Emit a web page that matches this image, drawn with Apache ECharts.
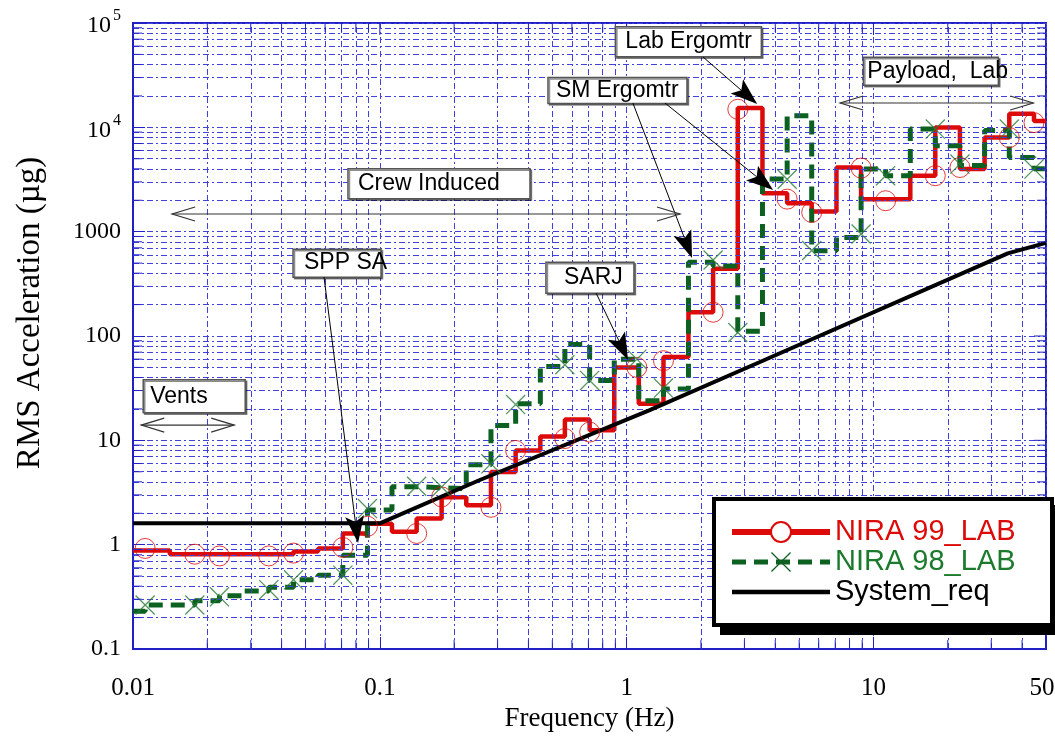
<!DOCTYPE html>
<html>
<head>
<meta charset="utf-8">
<script src="https://cdn.jsdelivr.net/npm/echarts@6/dist/echarts.min.js"></script>
<style>
  html, body { margin: 0; padding: 0; background: #fff; }
  #chart { width: 1055px; height: 737px; }
</style>
</head>
<body>
<div id="chart"></div>
<script>
// ==================== DATA ====================
// third-octave band edges (Hz)
const bandEdges = [0.01, 0.0112, 0.0141, 0.0178, 0.0224, 0.0282, 0.0355, 0.0447, 0.0562, 0.0708,
  0.0891, 0.112, 0.141, 0.178, 0.224, 0.282, 0.355, 0.447, 0.562, 0.708,
  0.891, 1.12, 1.41, 1.78, 2.24, 2.82, 3.55, 4.47, 5.62, 7.08,
  8.91, 11.2, 14.1, 17.8, 22.4, 28.2, 35.5, 44.7, 50];
// RMS level per band (µg)
const nira99Lab = [0.88, 0.88, 0.81, 0.81, 0.81, 0.81, 0.81, 0.86, 0.92, 1.28,
  1.59, 1.33, 1.78, 2.85, 2.39, 4.97, 8.0, 10.9, 15.8, 12.5,
  50, 22.4, 63, 169, 440, 15300, 2330, 1870, 1560, 4120,
  2050, 2050, 3440, 9960, 3980, 7980, 13500, 11500];
const nira98Lab = [0.23, 0.264, 0.264, 0.29, 0.324, 0.36, 0.39, 0.46, 0.51, 0.79,
  2.15, 3.6, 3.5, 3.45, 5.85, 13.9, 22.4, 51, 83, 37.5,
  60, 24, 31, 510, 470, 111, 3190, 12900, 658, 880,
  3990, 3440, 9620, 6650, 4300, 9300, 5140, 4000];
// marker positions
const markFreq = [0.0112, 0.0178, 0.0224, 0.0355, 0.0447, 0.0708, 0.0891, 0.141, 0.178, 0.282,
  0.355, 0.562, 0.708, 1.1, 1.41, 2.24, 2.82, 4.47, 5.62, 8.91, 11.2, 17.8, 22.4, 35.5, 44.7];
const nira99Marks = [0.92, 0.81, 0.78, 0.78, 0.83, 0.94, 1.5, 1.28, 2.87, 2.28,
  8.0, 10.4, 12.0, 50, 58, 169, 14900, 2050, 1530, 4070, 1980, 3440, 4120, 7980, 11100];
const nira98Marks = [0.264, 0.264, 0.316, 0.37, 0.46, 0.51, 2.22, 3.63, 3.58, 5.96,
  22, 53, 37.5, 60, 31.7, 535, 108, 3180, 660, 950, 3440, 9620, 4440, 9620, 3980];
// system requirement curve
const reqFreq = [0.01, 0.1, 0.25, 1.24, 3.45, 35, 50];
const reqVal = [1.6, 1.6, 4.1, 19.5, 56, 620, 780];
// axis labels
const xLabelValues = [0.01, 0.1, 1, 10, 50];
const xDecades = [0.01, 0.1, 1, 10];
const yDecades = [0.1, 1, 10, 100, 1000, 10000];

// ==================== STYLE ====================
const RED = '#dd0a0a', GREEN = '#0c6020', GREEN_TXT = '#1c7a2c';
const GRID_BLUE = '#4040dd', BORDER_BLUE = '#2020c4';
const SERIF = '"Liberation Serif", "Times New Roman", serif';
const SANS = '"Liberation Sans", Arial, sans-serif';
const X_MARK = 'path://M0,0.9L0.9,0L20,19.1L19.1,20Z M19.1,0L20,0.9L0.9,20L0,19.1Z';

const stepPoints = vals => {
  const pts = [];
  vals.forEach((v, i) => { pts.push([bandEdges[i], v]); pts.push([bandEdges[i + 1], v]); });
  return pts;
};
const minorVals = (decades, max) => {
  const out = [];
  decades.forEach(d => { for (let m = 2; m <= 9; m++) { const v = +(d * m).toPrecision(3); if (v < max) out.push(v); } });
  return out;
};
const xMinor = minorVals(xDecades, 50);
const yMinor = minorVals(yDecades, 1e5);
const gridDash = [6, 3, 2, 3];

const chart = echarts.init(document.getElementById('chart'));
chart.setOption({
  animation: false,
  backgroundColor: '#fff',
  grid: { left: 133, right: 9, top: 23, bottom: 88, show: true, borderColor: BORDER_BLUE, borderWidth: 2,
    containLabel: false, outerBoundsMode: 'none' },
  xAxis: {
    type: 'log', logBase: 10, min: 0.01, max: 50,
    axisLine: { show: true, lineStyle: { color: BORDER_BLUE, width: 2 } },
    axisTick: { show: true, inside: true, length: 12, lineStyle: { color: BORDER_BLUE, width: 1 } },
    axisLabel: { margin: 27, color: '#000', fontFamily: SERIF, fontSize: 25,
      formatter: v => {
        if (!xLabelValues.some(t => Math.abs(t - v) / t < 1e-6)) return '';
        const s = String(+(+v).toPrecision(3));
        return v > 20 ? `{r|${s}}` : s;
      },
      rich: { r: { fontFamily: SERIF, fontSize: 25, color: '#000', padding: [0, 8, 0, 0] } } },
    splitLine: { show: true, lineStyle: { color: GRID_BLUE, width: 1, type: gridDash } },
    name: 'Frequency (Hz)', nameLocation: 'middle', nameGap: 45,
    nameTextStyle: { color: '#000', fontFamily: SERIF, fontSize: 27 }
  },
  yAxis: {
    type: 'log', logBase: 10, min: 0.1, max: 100000,
    axisLine: { show: true, lineStyle: { color: BORDER_BLUE, width: 2 } },
    axisTick: { show: true, inside: true, length: 12, lineStyle: { color: BORDER_BLUE, width: 1 } },
    axisLabel: { margin: 12, color: '#000', fontFamily: SERIF, fontSize: 24,
      formatter: v => {
        const e = Math.round(Math.log10(v));
        return e >= 4 ? `{b|10}{s|${e}}` : String(+(+v).toPrecision(3));
      },
      rich: {
        b: { fontFamily: SERIF, fontSize: 24, color: '#000', verticalAlign: 'bottom' },
        s: { fontFamily: SERIF, fontSize: 16, color: '#000', verticalAlign: 'top', padding: [0, 0, 14, 2] }
      } },
    splitLine: { show: true, lineStyle: { color: GRID_BLUE, width: 1, type: gridDash } },
    name: 'RMS Acceleration (µg)', nameLocation: 'middle', nameGap: 86,
    nameTextStyle: { color: '#000', fontFamily: SERIF, fontSize: 33, padding: [0, 0, 0, 46] }
  },
  legend: {
    orient: 'vertical', left: 729, top: 517, padding: 0, z: 20,
    itemGap: 0, itemWidth: 98, itemHeight: 25, selectedMode: false,
    textStyle: { fontFamily: SANS, fontSize: 29, lineHeight: 30 },
    data: [
      { name: 'NIRA 99_LAB', textStyle: { color: RED }, lineStyle: { width: 6 } },
      { name: 'NIRA 98_LAB', textStyle: { color: GREEN_TXT }, lineStyle: { width: 5 } },
      { name: 'System_req', textStyle: { color: '#000' }, icon: 'path://M0,0H100V4.5H0Z' }
    ]
  },
  tooltip: { show: false },
  series: [
    {
      name: 'grid minor', type: 'line', data: [], silent: true, z: 1,
      markLine: {
        silent: true, symbol: 'none', animation: false, label: { show: false },
        lineStyle: { color: GRID_BLUE, width: 1, type: gridDash },
        emphasis: { disabled: true },
        data: [...xMinor.map(v => ({ xAxis: v })), ...yMinor.map(v => ({ yAxis: v }))]
      }
    },
    {
      name: 'NIRA 99_LAB', type: 'line', data: stepPoints(nira99Lab), z: 3, silent: true,
      symbol: 'emptyCircle', showSymbol: false, symbolSize: 20,
      itemStyle: { color: RED }, lineStyle: { color: RED, width: 4.5 }
    },
    {
      name: 'NIRA 98_LAB', type: 'line', data: stepPoints(nira98Lab), z: 4, silent: true,
      symbol: X_MARK, showSymbol: false, symbolSize: 20,
      itemStyle: { color: GREEN }, lineStyle: { color: GREEN, width: 5, type: [14, 8] }
    },
    {
      name: 'System_req', type: 'line', data: reqFreq.map((f, i) => [f, reqVal[i]]), z: 5, silent: true,
      symbol: 'none', itemStyle: { color: '#000' }, lineStyle: { color: '#000', width: 4 }
    },
    {
      name: 'NIRA 99 marks', type: 'scatter', data: markFreq.map((f, i) => [f, nira99Marks[i]]), z: 6, silent: true,
      symbol: 'circle', symbolSize: 20,
      itemStyle: { color: 'rgba(0,0,0,0)', borderColor: RED, borderWidth: 1 }
    },
    {
      name: 'NIRA 98 marks', type: 'scatter', data: markFreq.map((f, i) => [f, nira98Marks[i]]), z: 6, silent: true,
      symbol: X_MARK, symbolSize: 20, itemStyle: { color: '#2a7a3a' }
    }
  ]
});

// ==================== ANNOTATIONS ====================
const boxes = [
  { text: 'Lab Ergomtr', at: [0.9, 92000], w: 146, h: 30, pad: 10 },
  { text: 'SM Ergomtr', at: [0.48, 30000], w: 139, h: 26, pad: 8 },
  { text: 'Payload,  Lab', at: [9.1, 47000], w: 135, h: 28, pad: 4 },
  { text: 'Crew Induced', at: [0.0743, 4000], w: 182, h: 30, pad: 10 },
  { text: 'SPP SA', at: [0.0445, 680], w: 88, h: 28, pad: 11 },
  { text: 'SARJ', at: [0.471, 510], w: 88, h: 31, pad: 18 },
  { text: 'Vents', at: [0.011, 38], w: 102, h: 33, pad: 7 }
];
const pointers = [
  { from: [0.0594, 368], to: [0.0816, 1.04] },
  { from: [0.752, 258], to: [1.013, 58.9] },
  { from: [1.06, 17100], to: [1.84, 560] },
  { from: [1.43, 17100], to: [3.92, 2510] },
  { from: [2.04, 47200], to: [3.38, 16700] }
];
const spans = [
  { from: [0.0144, 1477], to: [1.645, 1477] },
  { from: [0.0108, 14], to: [0.0257, 14] },
  { from: [7.33, 17100], to: [44.4, 17100] }
];
// legend frame (pixels), drawn behind the legend entries
const legendFrame = { x: 714, y: 499, w: 338, h: 126, border: 4, shadow: 8 };

function annotate() {
  const P = (f, v) => chart.convertToPixel({ gridIndex: 0 }, [f, v]);
  const els = [];
  const line = (x1, y1, x2, y2, stroke, w, z) =>
    els.push({ type: 'line', z, silent: true, shape: { x1, y1, x2, y2 }, style: { stroke, lineWidth: w } });

  // minor ticks on all sides, major ticks on top/right
  const [L, B] = P(0.01, 0.1), [R, T] = P(50, 100000);
  xMinor.forEach(v => { const x = P(v, 1)[0]; line(x, B, x, B - 9, BORDER_BLUE, 1, 10); line(x, T, x, T + 9, BORDER_BLUE, 1, 10); });
  yMinor.forEach(v => { const y = P(1, v)[1]; line(L, y, L + 9, y, BORDER_BLUE, 1, 10); line(R, y, R - 9, y, BORDER_BLUE, 1, 10); });
  xDecades.forEach(v => { const x = P(v, 1)[0]; line(x, T, x, T + 12, BORDER_BLUE, 1, 10); });
  yDecades.forEach(v => { const y = P(1, v)[1]; line(R, y, R - 12, y, BORDER_BLUE, 1, 10); });

  // legend frame with hard shadow
  const f = legendFrame;
  els.push({ type: 'rect', z: 14, silent: true,
    shape: { x: f.x + f.shadow - f.border / 2, y: f.y + f.shadow - f.border / 2, width: f.w + f.border, height: f.h + f.border },
    style: { fill: '#000' } });
  els.push({ type: 'rect', z: 15, silent: true, shape: { x: f.x, y: f.y, width: f.w, height: f.h },
    style: { fill: '#fff', stroke: '#000', lineWidth: f.border } });

  boxes.forEach(b => {
    const [x, y] = P(b.at[0], b.at[1]);
    els.push({ type: 'rect', z: 100, silent: true, shape: { x, y, width: b.w, height: b.h },
      style: { fill: '#fff', stroke: '#555', lineWidth: 1.5, shadowColor: 'rgba(0,0,0,0.45)', shadowOffsetX: 1.5, shadowOffsetY: 1.5 } });
    els.push({ type: 'text', z: 101, silent: true, x: x + b.pad, y: y + b.h / 2,
      style: { text: b.text, fill: '#000', font: '23px ' + SANS, verticalAlign: 'middle', align: 'left' } });
  });

  pointers.forEach(p => {
    const [x1, y1] = P(p.from[0], p.from[1]), [x2, y2] = P(p.to[0], p.to[1]);
    const dx = x2 - x1, dy = y2 - y1, len = Math.hypot(dx, dy), ux = dx / len, uy = dy / len;
    const hl = 27, hw = 9.5;
    const bx = x2 - ux * hl, by = y2 - uy * hl;
    const nx = x2 - ux * hl * 0.78, ny = y2 - uy * hl * 0.78;
    line(x1, y1, nx, ny, '#000', 1, 100);
    els.push({ type: 'polygon', z: 100, silent: true,
      shape: { points: [[x2, y2], [bx - uy * hw, by + ux * hw], [nx, ny], [bx + uy * hw, by - ux * hw]] },
      style: { fill: '#000' } });
  });

  spans.forEach(s => {
    const [x1, y1] = P(s.from[0], s.from[1]), [x2, y2] = P(s.to[0], s.to[1]);
    line(x1, y1, x2, y2, '#333', 1.2, 100);
    const hl = 23, hw = 7;
    els.push({ type: 'polyline', z: 100, silent: true,
      shape: { points: [[x1 + hl, y1 - hw], [x1, y1], [x1 + hl, y1 + hw]] }, style: { stroke: '#333', lineWidth: 1.2, fill: null } });
    els.push({ type: 'polyline', z: 100, silent: true,
      shape: { points: [[x2 - hl, y2 - hw], [x2, y2], [x2 - hl, y2 + hw]] }, style: { stroke: '#333', lineWidth: 1.2, fill: null } });
  });

  chart.setOption({ graphic: { elements: els } });
}
annotate();
</script>
</body>
</html>
